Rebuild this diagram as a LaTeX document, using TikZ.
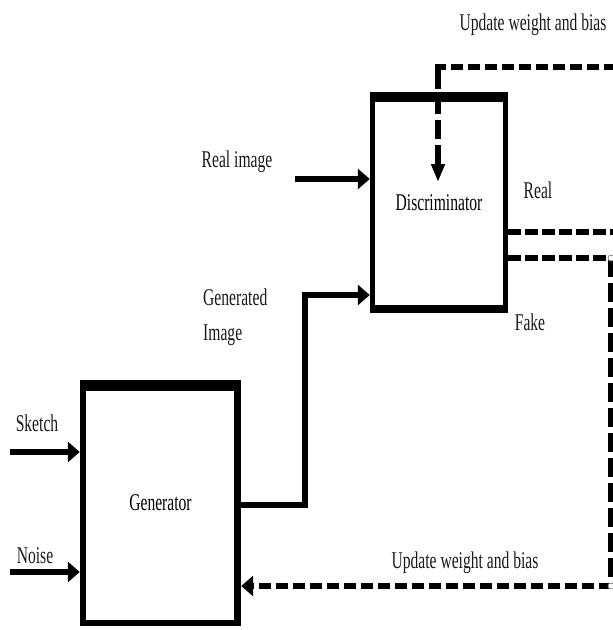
\documentclass[tikz,border=0pt]{standalone}
\usepackage{fontspec}
\setmainfont{Liberation Serif}[FakeStretch=0.65]
\usetikzlibrary{arrows.meta,backgrounds}

\begin{document}
\begin{tikzpicture}[x=1pt,y=-1pt,
  lbl/.style={font=\fontsize{24}{35}\selectfont, inner sep=0pt, text=black!90},
  blockbox/.style={inner sep=0pt, font=\fontsize{24}{28}\selectfont},
  harrow/.style={-{Triangle[length=12pt,width=20pt]}},
  varrow/.style={-{Triangle[length=18pt,width=13pt]}},
  solidline/.style={line width=6.5pt, line join=miter},
  dashline/.style={line width=6.5pt, dash pattern=on 12.5pt off 4.5pt},
  vdashline/.style={line width=5.5pt, dash pattern=on 19pt off 6pt},
  junction/.style={circle, draw=black!45, fill=white, line width=0.8pt, inner sep=0pt, minimum size=6pt}
]
\useasboundingbox (0,0) rectangle (613,630);

% blocks
\node[blockbox, minimum width=138pt, minimum height=221pt] (D) at (439,202.5) {Discriminator};
\node[blockbox, minimum width=161pt, minimum height=246pt] (G) at (160.5,503) {Generator};
\begin{pgfonlayer}{background}
  \fill (D.north west) rectangle (D.south east);
  \fill[white] ([shift={(5,10)}]D.north west) rectangle ([shift={(-5,-8)}]D.south east);
  \fill (G.north west) rectangle (G.south east);
  \fill[white] ([shift={(6,11)}]G.north west) rectangle ([shift={(-7,-6)}]G.south east);
\end{pgfonlayer}

% inputs
\coordinate (sk) at (10,452);
\coordinate (nz) at (10,572);
\coordinate (ri) at (295,179);
\draw[solidline, harrow] (sk) -- (sk -| G.west);
\draw[solidline, harrow] (nz) -- (nz -| G.west);
\draw[solidline, harrow] (ri) -- (ri -| D.west);

% generator output to discriminator
\coordinate (b1) at (305,505);
\coordinate (b2) at (305,295);
\draw[solidline, harrow] (G.east |- b1) -- (b1) -- (b2) -- (b2 -| D.west);

% discriminator update: horizontal run, then down into the block
\coordinate (t0) at (616,67);
\coordinate (t1) at (438,67);
\coordinate (t2) at (438,182);
\draw[dashline] (t0) -- ([xshift=-2.75pt]t1);
\draw[vdashline, varrow] ([yshift=-3.25pt]t1) -- (t2);

% real output
\coordinate (rl) at (616,232);
\draw[dashline] (D.east |- rl) -- (rl);

% fake output and generator update
\coordinate (f1) at (611,258);
\coordinate (f2) at (611,586);
\draw[dashline] (D.east |- f1) -- (f1);
\draw[vdashline] (f1) -- (f2);
\draw[dashline, harrow] (f2) -- (f2 -| G.east);
\node[junction] at (f1) {};
\node[junction] at (f2) {};

% labels
\node[lbl] (lsk) at (37,423) {Sketch};
\node[lbl] (lnz) at (35,556) {Noise};
\node[lbl] (lri) at (237,162) {Real image};
\node[lbl, align=left, anchor=west] (lgi) at (203,317) {Generated\\Image};
\node[lbl] (lre) at (538,190) {Real};
\node[lbl] (lfk) at (530,322) {Fake};
\node[lbl] (lut) at (533,25) {Update weight and bias};
\node[lbl] (lub) at (465,563) {Update weight and bias};
\end{tikzpicture}
\end{document}
